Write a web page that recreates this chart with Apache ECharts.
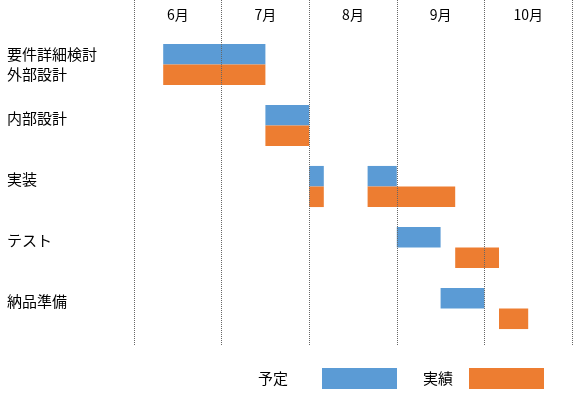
<!DOCTYPE html>
<html>
<head>
<meta charset="utf-8">
<script src="https://cdn.jsdelivr.net/npm/echarts@6/dist/echarts.min.js"></script>
<style>
  html, body { margin: 0; padding: 0; background: #fff; }
  #main { width: 579px; height: 400px; }
</style>
</head>
<body>
<div id="main"></div>
<script>
// タスク名（1行目は2行ラベル）
var tasks = ['要件詳細検討\n外部設計', '内部設計', '実装', 'テスト', '納品準備'];
var months = ['6月', '7月', '8月', '9月', '10月'];
// 単位: 6月1日からの半旬（1か月=6マス）
// [タスク番号, 開始, 終了]
var planSeg = [[0, 2, 9], [1, 9, 12], [2, 12, 13], [2, 16, 18], [3, 18, 21], [4, 21, 24]];
var actualSeg = [[0, 2, 9], [1, 9, 12], [2, 12, 13], [2, 16, 22], [3, 22, 25], [4, 25, 27]];

var FONT = '"Noto Sans CJK JP", "Noto Sans", sans-serif';
var chart = echarts.init(document.getElementById('main'));

// 予定は帯の上半分、実績は下半分
function ganttItem(upper) {
  return function (params, api) {
    var cat = api.value(0);
    var p0 = api.coord([api.value(1), cat]);
    var p1 = api.coord([api.value(2), cat]);
    var h = api.size([0, 1])[1] * 0.337;
    return {
      type: 'rect',
      shape: { x: p0[0], y: upper ? p0[1] - h : p0[1], width: p1[0] - p0[0], height: h },
      style: { fill: api.visual('color') }
    };
  };
}

var option = {
  animation: false,
  textStyle: { fontFamily: FONT },
  grid: [
    { left: 134, right: 7, top: 34, height: 305 },   // バー
    { left: 134, right: 7, top: 0, bottom: 55 }      // 点線
  ],
  legend: {
    left: 258,
    top: 368,
    padding: 0,
    align: 'right',
    icon: 'rect',
    itemWidth: 75,
    itemHeight: 21,
    itemGap: 26,
    textStyle: { fontFamily: FONT, fontSize: 15, color: '#000' },
    data: [
      { name: '予定', textStyle: { padding: [0, 29, 0, 0] } },
      { name: '実績', textStyle: { padding: [0, 11, 0, 0] } }
    ]
  },
  xAxis: [
    {
      type: 'value', gridIndex: 0, min: 0, max: 30, show: false
    },
    {
      type: 'value', gridIndex: 1, min: 0, max: 30, interval: 6, z: 5,
      axisLine: { show: false },
      axisTick: { show: false },
      axisLabel: { show: false },
      splitLine: { show: true, lineStyle: { type: 'dotted', color: '#666', width: 1 } }
    },
    {
      // 月ラベル
      type: 'category', gridIndex: 0, position: 'top', boundaryGap: true,
      data: months,
      axisLine: { show: false },
      axisTick: { show: false },
      splitLine: { show: false },
      axisLabel: { fontFamily: FONT, fontSize: 14, color: '#000', margin: 12 }
    }
  ],
  yAxis: [
    {
      type: 'category', gridIndex: 0, inverse: true,
      data: tasks,
      axisLine: { show: false },
      axisTick: { show: false },
      splitLine: { show: false },
      axisLabel: {
        align: 'left',
        margin: 127,
        fontFamily: FONT,
        fontSize: 15,
        color: '#000',
        lineHeight: 20,
        formatter: function (v) {
          return v.indexOf('\n') >= 0 ? v : v + '\n{s| }';
        },
        rich: { s: { lineHeight: 14, fontSize: 10 } }
      }
    },
    { type: 'value', gridIndex: 1, show: false, min: 0, max: 1 }
  ],
  series: [
    {
      name: '予定', type: 'custom', xAxisIndex: 0, yAxisIndex: 0,
      itemStyle: { color: '#5B9BD5' },
      encode: { x: [1, 2], y: 0 },
      renderItem: ganttItem(true),
      data: planSeg
    },
    {
      name: '実績', type: 'custom', xAxisIndex: 0, yAxisIndex: 0,
      itemStyle: { color: '#ED7D31' },
      encode: { x: [1, 2], y: 0 },
      renderItem: ganttItem(false),
      data: actualSeg
    }
  ]
};

chart.setOption(option);
</script>
</body>
</html>
